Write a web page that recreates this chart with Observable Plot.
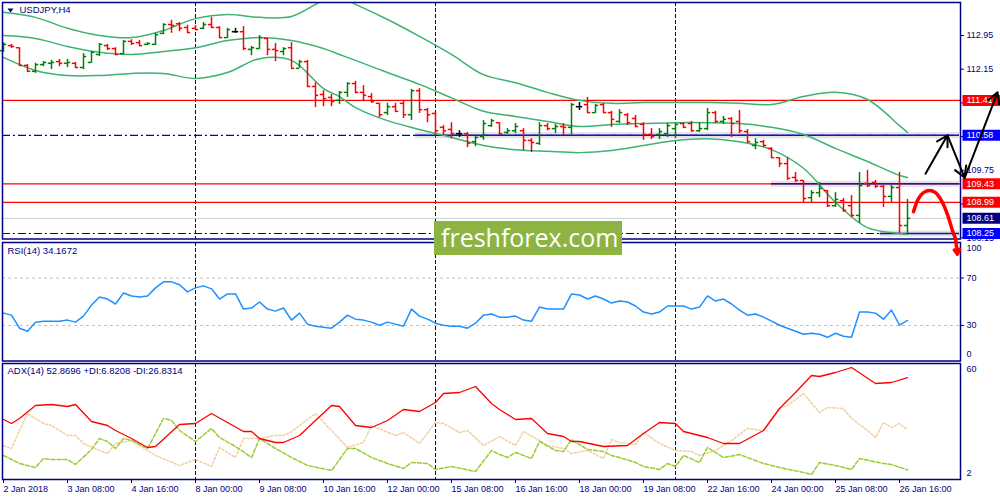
<!DOCTYPE html>
<html>
<head>
<meta charset="utf-8">
<script src="https://cdn.jsdelivr.net/npm/d3@7"></script>
<script src="https://cdn.jsdelivr.net/npm/@observablehq/plot@0.6"></script>
<style>
  body { margin: 0; background: #fff; }
  #chart { position: relative; width: 1000px; height: 500px; overflow: hidden; background: #fff; }
  #chart svg { position: absolute; left: 0; }
  #wm { position: absolute; left: 434px; top: 221px; width: 188px; height: 34px; background: #8db442;
        color: #fff; font: 25px "Open Sans", sans-serif; line-height: 32px; padding-left: 7px; box-sizing: border-box; }
</style>
</head>
<body>
<div id="chart"></div>
<script>
// USDJPY H4 bars, 2 Jan 2018 00:00 .. 26 Jan 20:00 (bar index = position)
const open = [
  112.59,112.71,112.66,112.24,112.10,112.26,112.29,112.33,112.29,112.29,
  112.19,112.31,112.50,112.71,112.64,112.52,112.81,112.78,112.74,112.74,
  113.00,113.21,113.23,113.14,113.12,113.12,113.21,113.14,112.90,113.04,
  113.04,112.62,112.64,112.88,112.62,112.57,112.66,112.17,112.33,111.74,
  111.55,111.48,111.41,111.60,111.81,111.60,111.50,111.34,111.12,111.26,
  111.34,111.07,111.64,111.19,111.10,110.77,110.72,110.62,110.62,110.43,
  110.55,110.81,110.88,110.65,110.69,110.69,110.46,110.39,110.81,110.74,
  110.79,110.77,111.26,111.31,111.12,111.31,111.12,110.91,111.07,110.98,
  110.84,110.60,110.60,110.62,110.74,110.86,110.86,110.69,110.74,111.12,
  110.91,110.98,110.91,110.67,110.34,110.43,110.27,110.05,109.91,109.58,
  109.51,109.10,109.22,109.27,108.91,109.03,108.91,108.68,109.44,109.46,
  109.37,109.13,109.34,108.44
];
const high = [
  112.78,112.74,112.66,112.26,112.29,112.33,112.36,112.38,112.38,112.31,
  112.52,112.57,112.76,112.74,112.66,112.83,112.85,112.83,112.78,113.00,
  113.23,113.31,113.26,113.19,113.19,113.26,113.38,113.16,113.12,113.12,
  113.16,112.69,112.95,112.88,112.76,112.66,112.78,112.36,112.36,111.83,
  111.64,111.55,111.62,111.83,111.86,111.76,111.57,111.34,111.34,111.34,
  111.41,111.67,111.69,111.22,111.12,110.81,110.88,110.69,110.65,110.55,
  110.93,110.96,110.88,110.74,110.86,110.74,110.50,110.88,110.86,110.84,
  110.86,111.34,111.36,111.48,111.31,111.34,111.15,111.19,111.10,111.05,
  110.88,110.74,110.74,110.86,110.86,110.88,110.91,110.88,111.22,111.15,
  111.03,111.00,111.17,110.72,110.50,110.46,110.29,110.05,110.05,109.70,
  109.51,109.27,109.46,109.27,109.22,109.08,109.15,109.70,109.75,109.51,
  109.39,109.39,109.70,109.06
];
const low = [
  112.55,112.64,112.21,112.07,112.05,112.21,112.14,112.21,112.19,112.17,
  112.14,112.29,112.45,112.59,112.47,112.50,112.71,112.69,112.71,112.71,
  112.97,113.00,113.04,113.00,113.07,113.09,113.12,112.88,112.88,113.00,
  112.59,112.47,112.62,112.47,112.33,112.47,112.17,112.17,111.72,111.24,
  111.26,111.26,111.31,111.48,111.57,111.38,111.34,111.00,111.05,111.12,
  110.98,110.93,111.10,110.88,110.62,110.58,110.50,110.53,110.29,110.31,
  110.46,110.77,110.58,110.60,110.62,110.22,110.17,110.34,110.69,110.62,
  110.58,110.58,111.17,111.10,111.10,111.10,110.77,110.86,110.81,110.77,
  110.46,110.48,110.48,110.53,110.50,110.74,110.65,110.65,110.69,110.86,
  110.84,110.53,110.62,110.39,110.24,110.29,110.03,109.82,109.51,109.46,
  108.99,108.99,109.10,108.87,108.87,108.75,108.63,108.49,109.34,109.32,
  108.87,108.99,108.25,108.23
];
const close = [
  112.74,112.69,112.24,112.10,112.26,112.31,112.31,112.29,112.31,112.19,
  112.45,112.55,112.74,112.64,112.50,112.81,112.76,112.71,112.76,112.97,
  113.21,113.19,113.12,113.02,113.09,113.21,113.14,112.90,113.09,113.04,
  112.64,112.66,112.90,112.62,112.59,112.64,112.17,112.33,111.74,111.53,
  111.45,111.38,111.60,111.81,111.60,111.53,111.38,111.07,111.26,111.15,
  111.07,111.64,111.19,111.07,110.69,110.69,110.62,110.62,110.39,110.53,
  110.86,110.93,110.62,110.69,110.79,110.46,110.41,110.81,110.74,110.79,
  110.77,111.31,111.26,111.12,111.29,111.12,110.96,111.12,110.88,110.79,
  110.60,110.55,110.67,110.81,110.84,110.77,110.69,110.74,111.12,110.91,
  110.96,110.86,110.69,110.43,110.41,110.34,110.05,109.91,109.56,109.51,
  109.08,109.22,109.32,108.91,109.06,108.80,108.68,109.39,109.39,109.37,
  109.13,109.34,108.44,108.61
];

// Bollinger bands, read at these bars
const bbBars   = [0,4,8,12,16,20,24,28,32,36,40,42,44,48,52,56,60,64,68,72,76,80,84,88,92,96,100,104,108,112,113];
const bbUpper  = [113.50,113.38,113.12,112.95,112.90,113.07,113.35,113.45,113.38,113.40,113.78,113.85,113.69,113.33,112.93,112.50,112.02,111.83,111.60,111.41,111.34,111.36,111.36,111.36,111.34,111.31,111.50,111.60,111.43,110.81,110.65];
const bbMiddle = [112.95,112.88,112.69,112.55,112.50,112.57,112.66,112.83,112.90,112.83,112.64,112.50,112.36,112.07,111.79,111.47,111.15,111.03,110.91,110.79,110.84,110.86,110.88,110.88,110.86,110.77,110.60,110.27,109.96,109.63,109.58];
const bbLower  = [112.43,112.12,112.00,112.00,112.05,112.05,111.93,112.07,112.40,112.36,111.69,111.50,111.24,110.93,110.72,110.53,110.34,110.24,110.20,110.17,110.22,110.34,110.46,110.50,110.43,110.24,109.80,108.99,108.39,108.25,108.23];

// RSI(14), one value per bar
const rsi = [
  40.4,38.7,27.7,25.1,32.8,33.6,33.6,33.6,34.5,32.8,
  37.9,47.2,54.0,52.3,48.1,57.4,54.9,54.0,54.9,61.7,
  66.8,66.8,64.3,58.3,61.7,63.4,60.9,52.3,56.6,56.6,
  43.8,44.7,49.8,43.8,42.1,44.7,34.5,40.4,31.1,29.4,
  28.5,27.7,32.8,38.7,35.3,34.5,32.8,30.2,32.8,31.1,
  29.4,43.8,37.9,35.3,31.9,30.2,29.4,29.4,27.7,31.9,
  38.7,39.6,37.0,37.0,37.9,34.5,33.6,45.5,43.8,43.8,
  43.8,56.6,55.7,52.3,54.9,52.3,48.9,50.6,49.8,46.4,
  41.3,39.6,41.3,46.4,46.4,46.4,43.8,45.5,54.9,50.6,
  52.3,48.1,43.0,38.7,39.6,37.0,33.6,30.2,27.7,25.1,
  22.6,23.4,22.6,20.0,23.4,20.9,20.0,41.3,41.3,40.4,
  35.3,43.0,30.2,34.2
];

// ADX(14) with +DI / -DI, read at these bars
const adxBars = [0,1,2,4,6,8,9,11,13,14,16,18,19,22,24,26,28,30,31,32,34,35,37,41,42,44,46,48,50,52,54,55,57,59,61,62,64,66,68,70,71,72,75,78,80,82,84,85,88,90,92,95,97,99,101,102,104,106,109,111,113];
const adxVals = [32.0,30.0,32.5,39.0,39.5,38.5,39.5,31.0,29.0,26.5,22.5,18.0,18.5,29.5,30.0,35.0,30.5,26.0,26.0,22.5,20.5,20.5,24.0,39.0,38.5,29.0,28.0,31.5,37.0,36.0,40.5,45.0,45.5,48.5,40.0,37.0,32.0,32.5,25.0,23.5,21.0,21.0,18.5,19.0,25.0,30.5,30.0,26.0,23.0,20.0,20.0,26.5,37.5,45.5,54.0,53.5,55.5,58.0,50.0,50.5,52.9];
const plusBars = [0,1,2,4,5,6,8,9,11,12,13,14,15,16,18,20,21,22,24,26,27,29,31,32,34,36,38,41,43,44,46,48,50,51,53,54,56,59,61,62,63,64,66,67,69,70,71,73,75,76,77,79,80,82,83,84,85,87,88,90,92,95,97,100,101,102,104,106,107,110,111,113];
const plusVals = [14.0,12.0,10.0,8.0,12.5,12.0,12.0,9.5,17.0,22.5,21.0,17.5,22.5,21.5,17.5,32.5,31.5,26.5,21.0,27.5,23.0,18.5,13.0,22.5,17.5,13.0,9.0,6.5,17.5,17.5,13.0,10.0,7.5,10.5,10.0,7.0,8.5,6.0,16.5,14.5,13.0,15.5,12.5,21.0,16.5,16.0,22.0,17.0,16.0,14.0,13.0,10.5,8.5,7.0,10.0,8.5,14.0,10.5,18.0,13.0,14.5,10.0,8.0,5.5,4.5,10.5,9.0,7.0,12.5,10.0,9.5,6.8];
const minusBars = [0,1,2,3,5,6,8,9,10,12,13,14,16,18,19,22,24,26,27,29,30,32,34,35,36,39,41,43,45,46,49,50,52,54,55,57,58,60,62,64,65,67,68,70,71,73,75,76,77,79,80,82,84,86,87,89,91,93,95,97,98,100,102,103,105,106,108,109,110,111,112,113];
const minusVals = [19.0,17.5,26.5,35.0,30.0,29.0,24.0,24.0,20.0,16.5,15.0,20.0,21.5,16.5,14.0,9.0,12.0,8.5,18.0,13.0,22.5,22.5,24.0,24.0,26.0,35.0,26.5,18.0,20.5,29.0,24.0,25.5,20.0,30.5,30.0,25.5,26.5,19.0,23.5,19.0,26.0,21.5,19.0,17.5,15.0,16.5,12.5,22.0,20.5,19.5,25.5,20.0,16.5,16.0,14.0,16.5,21.5,27.5,26.5,37.5,39.0,45.0,35.5,38.0,37.5,32.5,26.5,23.0,30.5,28.0,30.0,26.8];

// time axis
const weekStarts = [24, 54, 84];
const timeTicks = [0,8,16,24,32,40,48,56,64,72,80,88,96,104,112];
const timeLabels = ["2 Jan 2018","3 Jan 08:00","4 Jan 16:00","8 Jan 00:00","9 Jan 08:00","10 Jan 16:00","12 Jan 00:00",
  "15 Jan 08:00","16 Jan 16:00","18 Jan 00:00","19 Jan 08:00","22 Jan 16:00","24 Jan 00:00","25 Jan 08:00","26 Jan 16:00"];
const priceTicks = [112.95, 112.15, 111.35, 110.55, 109.75, 108.95, 108.15];

// horizontal levels and trend lines drawn on the chart
const redLevels = [111.41, 109.43, 108.99];
const dashLevels = [110.58, 108.25];
const bidPrice = 108.61;
const trendPrice = [110.58, 109.43, 108.25];
const trendFrom = [51.5, 96, 109.6];
const trendTo = [119.5, 119.5, 119.5];
const tagPrice = [111.41, 110.58, 109.43, 108.99, 108.61, 108.25];
const tagKind = ["level", "trend", "level", "level", "bid", "trend"];

// hand-drawn arrows (bar, price)
const blackFromBar = [115.25, 118.0, 120.125];
const blackFromPrice = [109.67, 110.58, 109.56];
const blackToBar = [118.0, 120.125, 124.25];
const blackToPrice = [110.58, 109.58, 111.60];
const redPathBar = [113.75, 114.375, 115.0, 115.75, 116.5, 117.25, 118.0, 118.625, 119.0];
const redPathPrice = [108.77, 109.08, 109.22, 109.27, 109.22, 109.03, 108.70, 108.32, 108.13];
const redHeadBar = [119.0, 119.25];
const redHeadPrice = [108.13, 107.76];

const navy = "#000080";
const font = "Liberation Sans, Arial, sans-serif";
const tagColor = {level: "#ff0000", trend: "#0000ff", bid: "#000080"};
const barColor = d => d.c > d.o ? "#008000" : d.c < d.o ? "#ff0000" : "#000000";

const bars = open.map((o, i) => ({i, o, h: high[i], l: low[i], c: close[i]}));
const series = (xs, vs) => xs.map((b, k) => ({b, v: vs[k]}));

const box = {draw(ctx) { ctx.rect(-19, -5.5, 38, 11); }};
const tri = {draw(ctx) { ctx.moveTo(-3, -2); ctx.lineTo(3, -2); ctx.lineTo(0, 2); ctx.closePath(); }};

const common = {
  width: 1000, marginLeft: 2, marginRight: 40,
  x: {domain: [-0.125, 119.625], axis: null, label: null},
  color: {type: "identity"},
  style: {background: "transparent", overflow: "visible", fontFamily: font, fontSize: "9px", color: navy}
};
const sep = Plot.ruleX(weekStarts, {stroke: navy, strokeDasharray: "4,2"});
const sideLabel = (v, dy) => Plot.text([v], {y: d => d, frameAnchor: "right", dx: 6, dy, textAnchor: "start", text: d => String(d)});
const title = (t, dx, dy) => Plot.text([t], {frameAnchor: "top-left", dx, dy, lineAnchor: "top", textAnchor: "start", fontSize: 9.5});

const main = Plot.plot({
  ...common, height: 240, marginTop: 2, marginBottom: 1.5,
  y: {domain: [108.12, 113.733], axis: null, label: null},
  marks: [
    sep,
    Plot.ruleY(redLevels, {stroke: "#ff0000", strokeWidth: 1.3}),
    Plot.ruleY([bidPrice], {stroke: "#cfcfcf"}),
    Plot.ruleY(dashLevels, {stroke: "#0000cd", strokeWidth: 1.2, strokeDasharray: "8,3,2,3"}),
    Plot.ruleY(trendPrice, {x1: (d, k) => trendFrom[k], x2: (d, k) => trendTo[k], stroke: "#8a8aa0", strokeOpacity: 0.25, strokeWidth: 6}),
    Plot.ruleY(trendPrice, {x1: (d, k) => trendFrom[k], x2: (d, k) => trendTo[k], stroke: "#1515b5", strokeWidth: 1.5}),
    Plot.line(series(bbBars, bbUpper), {x: "b", y: "v", stroke: "#3cb371", curve: "catmull-rom", clip: true}),
    Plot.line(series(bbBars, bbMiddle), {x: "b", y: "v", stroke: "#3cb371", curve: "catmull-rom", clip: true}),
    Plot.line(series(bbBars, bbLower), {x: "b", y: "v", stroke: "#3cb371", curve: "catmull-rom", clip: true}),
    Plot.ruleX(bars, {x: "i", y1: "l", y2: "h", stroke: barColor, strokeWidth: 1.5}),
    Plot.ruleY(bars, {y: "o", x1: d => d.i - 0.4, x2: "i", stroke: barColor, strokeWidth: 1.5}),
    Plot.ruleY(bars, {y: "c", x1: "i", x2: d => d.i + 0.4, stroke: barColor, strokeWidth: 1.5}),
    Plot.frame({strokeWidth: 1.5}),
    Plot.axisY({anchor: "right", ticks: priceTicks, tickFormat: d => d.toFixed(2), tickSize: 3, tickPadding: 3, label: null}),
    Plot.dot(tagPrice, {y: d => d, frameAnchor: "right", dx: 21, symbol: box, fill: (d, k) => tagColor[tagKind[k]], stroke: null}),
    Plot.text(tagPrice, {y: d => d, frameAnchor: "right", dx: 6, textAnchor: "start", text: d => d.toFixed(2), fill: "white"}),
    Plot.dot([0], {frameAnchor: "top-left", dx: 8, dy: 8, symbol: tri, fill: navy, stroke: null}),
    title("USDJPY,H4", 17, 4),
    Plot.arrow(d3.range(blackFromBar.length), {
      x1: k => blackFromBar[k], y1: k => blackFromPrice[k], x2: k => blackToBar[k], y2: k => blackToPrice[k],
      stroke: "black", strokeWidth: 2, headLength: 9
    }),
    Plot.line(d3.range(redPathBar.length), {x: k => redPathBar[k], y: k => redPathPrice[k], stroke: "#ff0000", strokeWidth: 3.5, curve: "catmull-rom"}),
    Plot.arrow([0], {x1: () => redHeadBar[0], y1: () => redHeadPrice[0], x2: () => redHeadBar[1], y2: () => redHeadPrice[1],
      stroke: "#ff0000", strokeWidth: 3.5, headLength: 13})
  ]
});

const rsiPlot = Plot.plot({
  ...common, height: 121, marginTop: 2, marginBottom: 0.5,
  y: {domain: [0, 100], axis: null, label: null},
  marks: [
    Plot.ruleY([70, 30], {stroke: "#c0c0c0", strokeDasharray: "3,3"}),
    sep,
    Plot.line(rsi, {x: (d, i) => i, y: d => d, stroke: "#1e90ff"}),
    Plot.frame({strokeWidth: 1.5}),
    Plot.axisY({anchor: "right", ticks: [70, 30], tickSize: 3, tickPadding: 3, label: null}),
    sideLabel(100, 6),
    sideLabel(0, -7),
    title("RSI(14) 34.1672", 5, 5)
  ]
});

const adxPlot = Plot.plot({
  ...common, height: 140, marginTop: 3, marginBottom: 21,
  y: {domain: [2, 60], axis: null, label: null},
  marks: [
    sep,
    Plot.line(series(minusBars, minusVals), {x: "b", y: "v", stroke: "#f2cf9f", strokeDasharray: "2,2"}),
    Plot.line(series(plusBars, plusVals), {x: "b", y: "v", stroke: "#9acd32", strokeDasharray: "4,2"}),
    Plot.line(series(adxBars, adxVals), {x: "b", y: "v", stroke: "#ff0000", strokeWidth: 1.3}),
    Plot.frame({strokeWidth: 1.5}),
    Plot.axisX({anchor: "bottom", ticks: timeTicks, tickFormat: d => timeLabels[timeTicks.indexOf(d)],
      tickSize: 4, tickPadding: 2, textAnchor: "start", label: null}),
    sideLabel(60, 6),
    sideLabel(2, -6),
    title("ADX(14) 52.8696 +DI:6.8208 -DI:26.8314", 5, 4)
  ]
});

const root = d3.select("#chart");
root.append(() => rsiPlot).style("top", "240px");
root.append(() => adxPlot).style("top", "360px");
root.append(() => main).style("top", "0px");
root.append("div").attr("id", "wm").text("freshforex.com");
</script>
</body>
</html>
